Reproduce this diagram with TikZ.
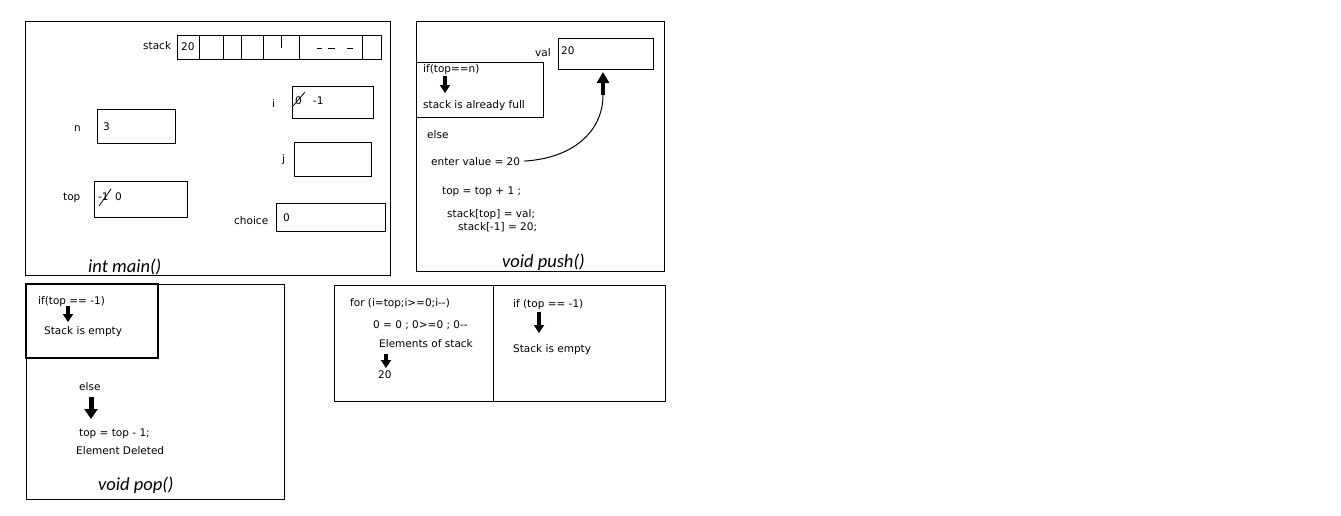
\documentclass[tikz,border=0pt]{standalone}
\usepackage{fontspec}
\setmainfont{DejaVu Sans}
\newfontfamily\titlefont{Carlito}
\usetikzlibrary{arrows.meta}
\begin{document}
\begin{tikzpicture}[x=1pt,y=-1pt,
  cellbox/.style={draw, line width=1pt, anchor=north west, inner sep=0pt, outer sep=0pt},
  txt/.style={anchor=base west, inner sep=0pt, font=\fontsize{10.5}{12}\selectfont},
  titletxt/.style={anchor=base west, inner sep=0pt, font=\titlefont\itshape\fontsize{18.5}{20}\selectfont},
  barrow/.style={line width=3.5pt, -{Triangle[length=8pt,width=10pt]}},
  bigarrow/.style={line width=5pt, -{Triangle[length=10pt,width=13pt]}},
  thin/.style={line width=0.8pt}
]
\useasboundingbox (0,0) rectangle (1341,515);

% ---------------- int main() ----------------
\node[cellbox, minimum width=365pt, minimum height=254pt] (mainframe) at (25,21) {};
\node[txt] (stacklbl) at (143,49) {stack};
\node[cellbox, minimum width=22pt, minimum height=24pt] (c1) at (177,35) {};
\node[cellbox, minimum width=24pt, minimum height=24pt] (c2) at (199,35) {};
\node[cellbox, minimum width=18pt, minimum height=24pt] (c3) at (223,35) {};
\node[cellbox, minimum width=22pt, minimum height=24pt] (c4) at (241,35) {};
\node[cellbox, minimum width=36pt, minimum height=24pt] (c5) at (263,35) {};
\node[cellbox, minimum width=63pt, minimum height=24pt] (c6) at (299,35) {};
\node[cellbox, minimum width=19pt, minimum height=24pt] (c7) at (362,35) {};
\draw[line width=1pt] (281,35) -- (281,48);
\draw[line width=1pt] (317,48) -- (322,48);
\draw[line width=1pt] (328,48) -- (335,48);
\draw[line width=1pt] (347,48) -- (353,48);
\node[txt] (s20) at (181,50) {20};

\node[txt] (ilbl) at (272,107) {i};
\node[cellbox, minimum width=81pt, minimum height=32pt] (ibox) at (292,86) {};
\node[txt] (izero) at (295,104) {0};
\node[txt] (ival) at (313,104) {-1};
\draw[thin] (293,106) -- (305,92);

\node[txt] (nlbl) at (74,131) {n};
\node[cellbox, minimum width=78pt, minimum height=34pt] (nbox) at (97,109) {};
\node[txt] (nval) at (103,130) {3};

\node[txt] (jlbl) at (282,162) {j};
\node[cellbox, minimum width=77pt, minimum height=34pt] (jbox) at (294,142) {};

\node[txt] (toplbl) at (63,200) {top};
\node[cellbox, minimum width=93pt, minimum height=36pt] (topbox) at (94,181) {};
\node[txt] (topold) at (98,200) {-1};
\node[txt] (topval) at (115,200) {0};
\draw[thin] (99,206) -- (111,189);

\node[txt] (choicelbl) at (234,224) {choice};
\node[cellbox, minimum width=109pt, minimum height=28pt] (choicebox) at (276,203) {};
\node[txt] (choiceval) at (283,221) {0};

\node[titletxt] (maintitle) at (88,272) {int main()};

% ---------------- void push() ----------------
\node[cellbox, minimum width=248pt, minimum height=250pt] (pushframe) at (416,21) {};
\node[txt] (vallbl) at (535,56) {val};
\node[cellbox, minimum width=95pt, minimum height=31pt] (valbox) at (558,38) {};
\node[txt] (valval) at (561,54) {20};
\node[cellbox, minimum width=127pt, minimum height=55pt] (fullbox) at (416,62) {};
\node[txt] (iffull) at (423,72) {if(top==n)};
\node[txt] (fullmsg) at (423,108) {stack is already full};
\coordinate (fa1) at (445,76);
\coordinate (fa2) at (445,93);
\draw[barrow] (fa1) -- (fa2);
\node[txt] (pelse) at (427,138) {else};
\node[txt] (enter) at (431,165) {enter value = 20};
\coordinate (cend) at (603,95);
\coordinate (ctip) at (603,72);
\draw[line width=1pt] ([xshift=4pt]enter.east) .. controls (575,158) and (603,130) .. (cend);
\draw[line width=4pt, -{Triangle[length=11pt,width=12pt]}] (cend) -- (ctip);
\node[txt] (incr) at (442,194) {top = top + 1 ;};
\node[txt] (assign) at (447,217) {stack[top] = val;};
\node[txt] (assign2) at (458,230) {stack[-1] = 20;};
\node[titletxt] (pushtitle) at (502,267) {void push()};

% ---------------- void pop() ----------------
\node[cellbox, minimum width=258pt, minimum height=215pt] (popframe) at (26,284) {};
\node[cellbox, line width=1.3pt, minimum width=132pt, minimum height=74pt] (emptybox) at (26,284) {};
\node[txt] (ifempty) at (38,304) {if(top == -1)};
\coordinate (pa1) at (68,306);
\coordinate (pa2) at (68,322);
\draw[barrow] (pa1) -- (pa2);
\node[txt] (emptymsg) at (44,334) {Stack is empty};
\node[txt] (popelse) at (79,390) {else};
\coordinate (pb1) at (91,397);
\coordinate (pb2) at (91,419);
\draw[bigarrow] (pb1) -- (pb2);
\node[txt] (decr) at (79,436) {top = top - 1;};
\node[txt] (deleted) at (76,454) {Element Deleted};
\node[titletxt] (poptitle) at (98,490) {void pop()};

% ---------------- display ----------------
\node[cellbox, minimum width=159pt, minimum height=116pt] (forbox) at (334,285) {};
\node[cellbox, minimum width=172pt, minimum height=116pt] (ifbox) at (493,285) {};
\node[txt] (forline) at (350,306) {for (i=top;i>=0;i-{}-)};
\node[txt] (forvals) at (373,328) {0 = 0 ; 0>=0 ; 0-{}-};
\node[txt] (elems) at (379,347) {Elements of stack};
\coordinate (da1) at (386,354);
\coordinate (da2) at (386,368);
\draw[barrow] (da1) -- (da2);
\node[txt] (elem20) at (378,378) {20};
\node[txt] (ifdisp) at (513,307) {if (top == -1)};
\coordinate (ea1) at (539,312);
\coordinate (ea2) at (539,333);
\draw[barrow] (ea1) -- (ea2);
\node[txt] (dispempty) at (513,352) {Stack is empty};
\end{tikzpicture}
\end{document}
